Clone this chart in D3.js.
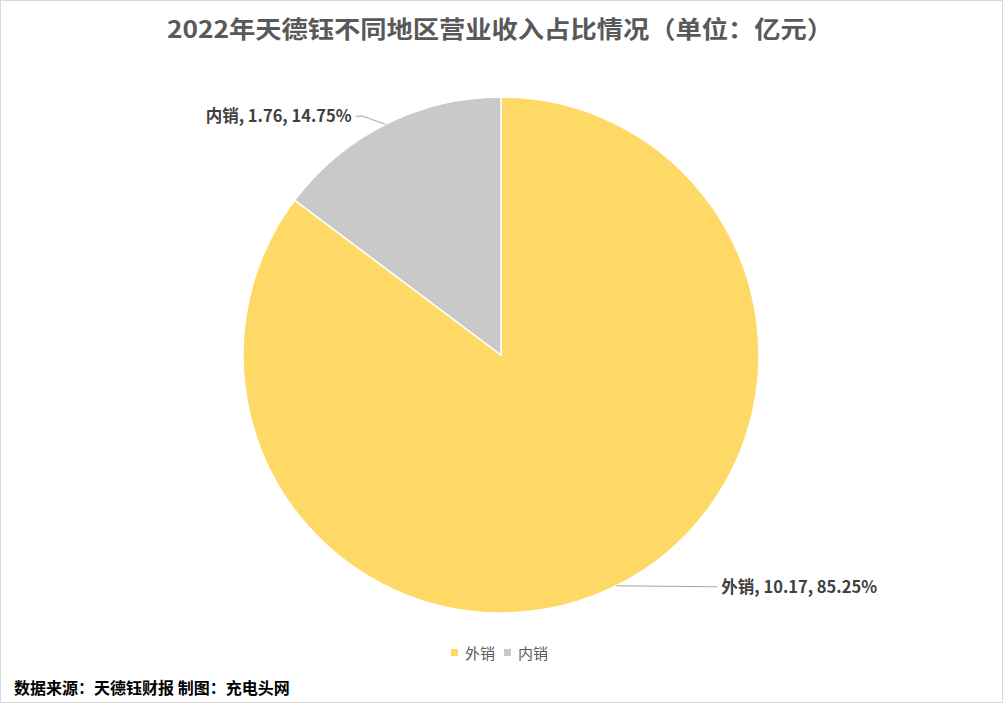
<!DOCTYPE html>
<html><head><meta charset="utf-8">
<script src="https://cdn.jsdelivr.net/npm/d3@7"></script>
<style>body{margin:0;background:#fff}svg{display:block}</style>
</head><body>
<svg id="c" width="1003" height="703"></svg>
<script>
const categories = ["外销", "内销"];
const values = [10.17, 1.76];
const percents = ["85.25%", "14.75%"];
const colors = ["#FFD966", "#C9C9C9"];
const title = "2022年天德钰不同地区营业收入占比情况（单位：亿元）";
const footer = "数据来源：天德钰财报 制图：充电头网";

const svg = d3.select("#c");
const font = "'Noto Sans CJK SC', 'Microsoft YaHei', sans-serif";
svg.append("rect").attr("x",0.5).attr("y",0.5).attr("width",1002).attr("height",702)
  .attr("fill","#fff").attr("stroke","#D9D9D9");

svg.append("text").attr("x",167).attr("y",38)
  .attr("textLength",666).attr("lengthAdjust","spacingAndGlyphs")
  .attr("font-family",font).attr("font-weight","bold").attr("font-size",24)
  .attr("fill","#595959").text(title);

const cx = 501, cy = 355, r = 258;
const data = categories.map((c,i)=>({cat:c,val:values[i],pct:percents[i],color:colors[i]}));
const pie = d3.pie().value(d=>d.val).sort(null);
const arc = d3.arc().innerRadius(0).outerRadius(r);
const g = svg.append("g").attr("transform",`translate(${cx},${cy})`);
const arcs = pie(data);
g.selectAll("path").data(arcs).join("path").attr("d",arc)
  .attr("fill",d=>d.data.color).attr("stroke","#fff").attr("stroke-width",1.5);

// leader lines and labels
arcs.forEach((a,i)=>{
  const mid = (a.startAngle+a.endAngle)/2;
  const px = r*Math.sin(mid), py = -r*Math.cos(mid);
  const right = px > 0;
  const ly = py + (right ? 1 : -8);
  const hx = right ? px + 101 : px - 30;
  const elbowX = right ? px + 0 : px - 23;
  const pts = right ? [[px,py],[hx,ly]] : [[px,py],[elbowX,ly],[hx,ly]];
  g.append("path").attr("d",d3.line()(pts)).attr("fill","none")
    .attr("stroke","#A6A6A6").attr("stroke-width",1);
  g.append("text").attr("x", right ? hx + 4 : hx - 4).attr("y", ly + 6)
    .attr("text-anchor", right ? "start" : "end")
    .attr("font-family",font).attr("font-weight","bold").attr("font-size",16.5)
    .attr("fill","#404040")
    .text(`${a.data.cat}, ${a.data.val.toFixed(2)}, ${a.data.pct}`);
});

// legend
const lg = svg.append("g").attr("transform","translate(451,653)");
data.forEach((d,i)=>{
  const x = i*53;
  lg.append("rect").attr("x",x).attr("y",-4).attr("width",7).attr("height",7).attr("fill",d.color);
  lg.append("text").attr("x",x+14).attr("y",5.5).attr("font-family",font).attr("font-size",15)
    .attr("fill","#595959").text(d.cat);
});

svg.append("text").attr("x",14).attr("y",694).attr("font-family",font).attr("font-weight","bold")
  .attr("font-size",16).attr("fill","#000").text(footer);
</script>
</body></html>
